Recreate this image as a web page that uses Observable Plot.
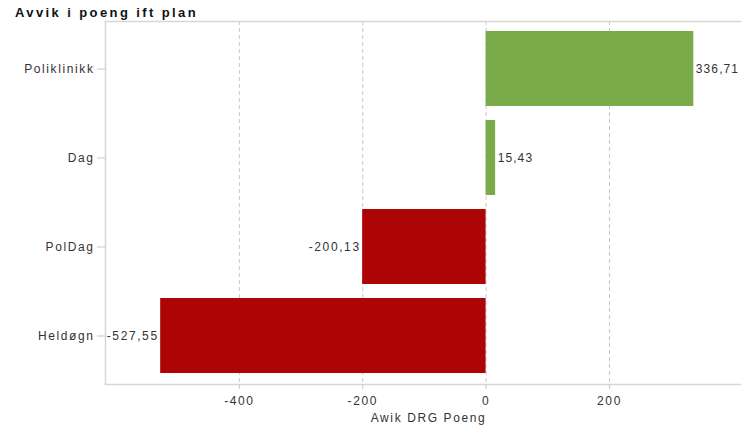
<!DOCTYPE html>
<html>
<head>
<meta charset="utf-8">
<script src="https://cdn.jsdelivr.net/npm/d3@7"></script>
<script src="https://cdn.jsdelivr.net/npm/@observablehq/plot@0.6"></script>
<style>
  html, body { margin: 0; padding: 0; background: #fff; }
  #wrap { position: relative; width: 741px; height: 428px; }
  #title {
    position: absolute; left: 15px; top: 1px;
    font: bold 13px "Liberation Sans", Arial, sans-serif;
    letter-spacing: 2.4px; line-height: 24px; color: #111;
  }
  svg text { letter-spacing: 1.6px; }
  svg g.pos-labels text { letter-spacing: 1.1px; }
</style>
</head>
<body>
<div id="wrap">
  <div id="title">Avvik i poeng ift plan</div>
  <div id="chart"></div>
</div>
<script>
// Deviation from plan in DRG points, per activity type
const categories = ["Poliklinikk", "Dag", "PolDag", "Heldøgn"];
const values = [336.71, 15.43, -200.13, -527.55];
const labels = ["336,71", "15,43", "-200,13", "-527,55"];
const xTicks = [-400, -200, 0, 200];
const xTitle = "Awik DRG Poeng";

const rows = categories.map((c, i) => ({cat: c, value: values[i], label: labels[i]}));
const pos = rows.filter(d => d.value >= 0);
const neg = rows.filter(d => d.value < 0);

const chart = Plot.plot({
  width: 741,
  height: 428,
  marginTop: 21,
  marginBottom: 44,
  marginLeft: 105,
  marginRight: 0,
  style: {fontFamily: "'Liberation Sans', Arial, sans-serif", fontSize: "12px", color: "#333", background: "#fff"},
  x: {domain: [-617, 414], ticks: xTicks, label: null},
  y: {domain: categories, paddingInner: 0.157, paddingOuter: 0.115, label: null},
  marks: [
    Plot.ruleX(xTicks, {stroke: "#c8c8c8", strokeWidth: 1, strokeDasharray: "4,3"}),
    Plot.frame({anchor: "top", stroke: "#d6d6d6", strokeWidth: 1.5}),
    Plot.frame({anchor: "bottom", stroke: "#d6d6d6", strokeWidth: 1.5}),
    Plot.frame({anchor: "left", stroke: "#d6d6d6", strokeWidth: 1.5}),
    Plot.barX(rows, {x: "value", y: "cat", fill: d => d.value >= 0 ? "#79ab4b" : "#ad0505"}),
    Plot.text(pos, {x: "value", y: "cat", text: "label", textAnchor: "start", dx: 2, fill: "#333", className: "pos-labels"}),
    Plot.text(neg, {x: "value", y: "cat", text: "label", textAnchor: "end", dx: -2, fill: "#333"}),
    Plot.axisY({tickSize: 8, tickPadding: 3, stroke: "#c8c8c8", color: "#333", label: null}),
    Plot.axisX({ticks: xTicks, tickSize: 5, tickPadding: 7, stroke: "#c8c8c8", color: "#333",
      label: null, tickFormat: d => d < 0 ? "-" + Math.abs(d) : String(d)}),
    // x-axis title, centred under the plot area
    Plot.text([xTitle], {frameAnchor: "bottom", lineAnchor: "bottom", dy: 37, dx: 5, fill: "#333"})
  ]
});
document.getElementById("chart").appendChild(chart);
</script>
</body>
</html>
